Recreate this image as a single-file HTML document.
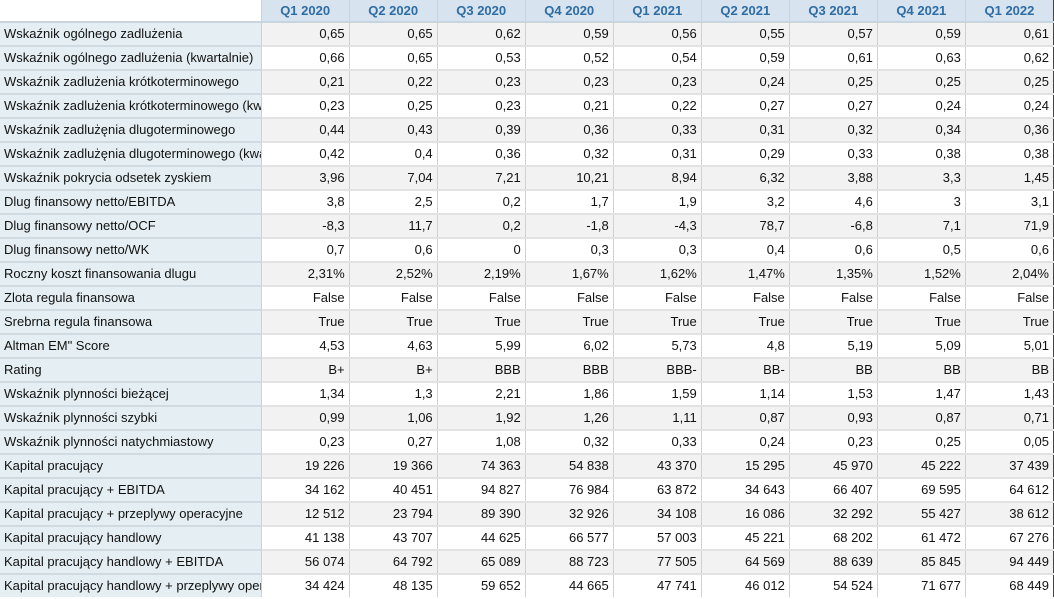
<!DOCTYPE html>
<html><head><meta charset="utf-8"><style>
body{margin:0;width:1054px;height:599px;overflow:hidden;background:#fff;font-family:"Liberation Sans",Arial,sans-serif;font-size:13px;color:#111}
table{border-collapse:collapse;table-layout:fixed;width:1054px}
td,th{height:22px;padding:0 4px;white-space:nowrap;overflow:hidden;border-top:2px solid #e2e2e2;border-left:1px solid #d0d0d0;line-height:22px}
th{height:21px;line-height:21px;background:#d7e3ee;color:#2e6da4;font-weight:bold;text-align:center;border-top:none;border-bottom:2px solid #c8d4de}
th.c0{background:#fff;border-left:none}
td{text-align:right}
td.l{text-align:left;background:#e5eff3;border-left:none;border-top:2px solid #cfdbe1;text-overflow:clip}
tr:nth-child(odd) td{background:#f2f2f2}
tr:nth-child(odd) td.l,tr:nth-child(even) td.l{background:#e5eff3}
td:last-child,th:last-child{border-right:1px solid #444}
</style></head><body>
<table>
<colgroup><col style="width:261px"><col span="9" style="width:88px"></colgroup>
<thead><tr><th class="c0"></th><th>Q1 2020</th><th>Q2 2020</th><th>Q3 2020</th><th>Q4 2020</th><th>Q1 2021</th><th>Q2 2021</th><th>Q3 2021</th><th>Q4 2021</th><th>Q1 2022</th></tr></thead>
<tbody id="tb"></tbody></table>
<script>
const rows=[
["Wskaźnik ogólnego zadlużenia","0,65","0,65","0,62","0,59","0,56","0,55","0,57","0,59","0,61"],
["Wskaźnik ogólnego zadlużenia (kwartalnie)","0,66","0,65","0,53","0,52","0,54","0,59","0,61","0,63","0,62"],
["Wskaźnik zadlużenia krótkoterminowego","0,21","0,22","0,23","0,23","0,23","0,24","0,25","0,25","0,25"],
["Wskaźnik zadlużenia krótkoterminowego (kwartalnie)","0,23","0,25","0,23","0,21","0,22","0,27","0,27","0,24","0,24"],
["Wskaźnik zadlużęnia dlugoterminowego","0,44","0,43","0,39","0,36","0,33","0,31","0,32","0,34","0,36"],
["Wskaźnik zadlużęnia dlugoterminowego (kwartalnie)","0,42","0,4","0,36","0,32","0,31","0,29","0,33","0,38","0,38"],
["Wskaźnik pokrycia odsetek zyskiem","3,96","7,04","7,21","10,21","8,94","6,32","3,88","3,3","1,45"],
["Dlug finansowy netto/EBITDA","3,8","2,5","0,2","1,7","1,9","3,2","4,6","3","3,1"],
["Dlug finansowy netto/OCF","-8,3","11,7","0,2","-1,8","-4,3","78,7","-6,8","7,1","71,9"],
["Dlug finansowy netto/WK","0,7","0,6","0","0,3","0,3","0,4","0,6","0,5","0,6"],
["Roczny koszt finansowania dlugu","2,31%","2,52%","2,19%","1,67%","1,62%","1,47%","1,35%","1,52%","2,04%"],
["Zlota regula finansowa","False","False","False","False","False","False","False","False","False"],
["Srebrna regula finansowa","True","True","True","True","True","True","True","True","True"],
["Altman EM\" Score","4,53","4,63","5,99","6,02","5,73","4,8","5,19","5,09","5,01"],
["Rating","B+","B+","BBB","BBB","BBB-","BB-","BB","BB","BB"],
["Wskaźnik plynności bieżącej","1,34","1,3","2,21","1,86","1,59","1,14","1,53","1,47","1,43"],
["Wskaźnik plynności szybki","0,99","1,06","1,92","1,26","1,11","0,87","0,93","0,87","0,71"],
["Wskaźnik plynności natychmiastowy","0,23","0,27","1,08","0,32","0,33","0,24","0,23","0,25","0,05"],
["Kapital pracujący","19 226","19 366","74 363","54 838","43 370","15 295","45 970","45 222","37 439"],
["Kapital pracujący + EBITDA","34 162","40 451","94 827","76 984","63 872","34 643","66 407","69 595","64 612"],
["Kapital pracujący + przeplywy operacyjne","12 512","23 794","89 390","32 926","34 108","16 086","32 292","55 427","38 612"],
["Kapital pracujący handlowy","41 138","43 707","44 625","66 577","57 003","45 221","68 202","61 472","67 276"],
["Kapital pracujący handlowy + EBITDA","56 074","64 792","65 089","88 723","77 505","64 569","88 639","85 845","94 449"],
["Kapital pracujący handlowy + przeplywy operacyjne","34 424","48 135","59 652","44 665","47 741","46 012","54 524","71 677","68 449"]];
const tb=document.getElementById('tb');
rows.forEach((r,i)=>{const tr=document.createElement('tr');


r.forEach((v,j)=>{const td=document.createElement('td');td.textContent=v;if(j==0)td.className='l';


tr.appendChild(td);});tb.appendChild(tr);});
</script>
</body></html>
